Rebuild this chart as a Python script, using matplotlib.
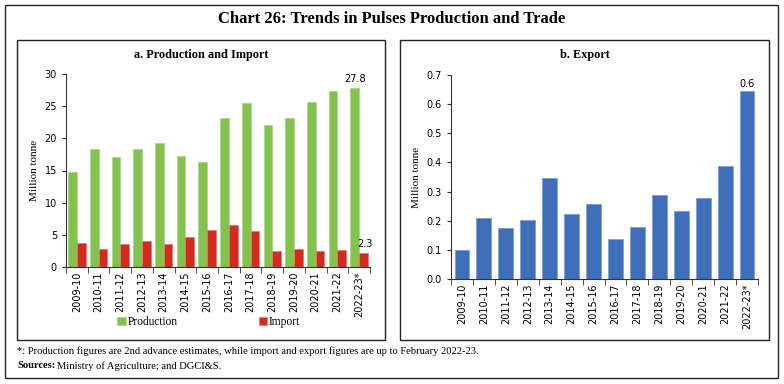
import numpy as np
import matplotlib.pyplot as plt
from matplotlib.patches import Rectangle

years = ['2009-10', '2010-11', '2011-12', '2012-13', '2013-14', '2014-15', '2015-16',
         '2016-17', '2017-18', '2018-19', '2019-20', '2020-21', '2021-22', '2022-23*']
production = [14.7, 18.3, 17.1, 18.4, 19.3, 17.2, 16.3, 23.2, 25.5, 22.1, 23.1, 25.6, 27.4, 27.8]
imports = [3.7, 2.75, 3.5, 4.0, 3.6, 4.6, 5.8, 6.6, 5.6, 2.5, 2.85, 2.45, 2.65, 2.2]
exports = [0.100, 0.209, 0.174, 0.201, 0.345, 0.222, 0.257, 0.137, 0.180, 0.288,
           0.232, 0.277, 0.389, 0.646]

green = '#84C24E'
red = '#D42B1F'
blue = '#3F6EBA'
serif = ['Liberation Serif', 'DejaVu Serif']
sans = ['DejaVu Sans']

W, H = 784, 384
fig = plt.figure(figsize=(W / 100, H / 100), dpi=100)


def box(x0, y0, x1, y1, lw=1.0):
    fig.patches.append(Rectangle((x0 / W, 1 - y1 / H), (x1 - x0) / W, (y1 - y0) / H,
                                 transform=fig.transFigure, fill=False,
                                 edgecolor='#222222', linewidth=lw))


box(5, 5, 778, 378)
box(17, 40, 385, 340)
box(400, 40, 769, 340)

fig.text(392 / W, 1 - 19 / H, 'Chart 26: Trends in Pulses Production and Trade',
         ha='center', va='center', fontsize=12, fontweight='bold', family=serif)
fig.text(201 / W, 1 - 55 / H, 'a. Production and Import', ha='center', va='center',
         fontsize=8.8, fontweight='bold', family=serif)
fig.text(585 / W, 1 - 55 / H, 'b. Export', ha='center', va='center',
         fontsize=8.8, fontweight='bold', family=serif)
fig.text(17 / W, 1 - 351 / H,
         '*: Production figures are 2nd advance estimates, while import and export figures are up to February 2022-23.',
         ha='left', va='center', fontsize=7.6, family=serif)
fig.text(17 / W, 1 - 366 / H, 'Sources:', ha='left', va='center', fontsize=7.6,
         fontweight='bold', family=serif)
fig.text(57 / W, 1 - 366 / H, 'Ministry of Agriculture; and DGCI&S.', ha='left', va='center',
         fontsize=7.6, family=serif)

x = np.arange(len(years))


def style(ax):
    for s in ['top', 'right']:
        ax.spines[s].set_visible(False)
    ax.spines['left'].set_color('#333333')
    ax.spines['bottom'].set_color('#333333')
    ax.set_xlim(-0.5, len(years) - 0.5)
    ax.set_xticks(x)
    ax.set_xticklabels(years, rotation=90, fontsize=7, family=sans)
    ax.tick_params(axis='x', length=0, pad=3)
    ax.set_xticks(np.arange(len(years) + 1) - 0.5, minor=True)
    ax.tick_params(axis='x', which='minor', length=4, direction='out', color='#333333')
    ax.tick_params(axis='y', labelsize=7, length=3, color='#333333')
    for lab in ax.get_yticklabels():
        lab.set_family(sans)
    ax.set_ylabel('Million tonne', fontsize=8, family=serif)


# panel a
ax1 = fig.add_axes([66 / W, 1 - 267 / H, (370 - 66) / W, (267 - 74) / H])
bw = 0.4
ax1.bar(x - bw / 2, production, bw, color=green, edgecolor='#A8D68A', linewidth=0.6, label='Production')
ax1.bar(x + bw / 2, imports, bw, color=red, edgecolor='#E27A70', linewidth=0.6, label='Import')
ax1.set_ylim(0, 30)
ax1.set_yticks(np.arange(0, 31, 5))
style(ax1)
ax1.text(x[-1] - bw / 2, production[-1] + 0.6, '27.8', ha='center', va='bottom', fontsize=7, family=sans)
ax1.text(x[-1] + bw / 2 + 0.05, imports[-1] + 0.6, '2.3', ha='center', va='bottom', fontsize=7, family=sans)
ax1.legend(loc='center', bbox_to_anchor=(0.47, -0.285), ncol=2, frameon=False,
           prop={'family': serif, 'size': 8.3}, handlelength=0.75,
           handleheight=0.75, handletextpad=0.15, columnspacing=7.0)

# panel b
ax2 = fig.add_axes([451 / W, 1 - 279 / H, (758 - 451) / W, (279 - 75) / H])
ax2.bar(x, exports, 0.68, color=blue, edgecolor='#7F9ED3', linewidth=0.6)
ax2.set_ylim(0, 0.7)
ax2.set_yticks(np.arange(0, 0.71, 0.1))
ax2.set_yticklabels(['%.1f' % v for v in np.arange(0, 0.71, 0.1)])
style(ax2)
ax2.text(x[-1], exports[-1] + 0.005, '0.6', ha='center', va='bottom', fontsize=7, family=sans)

fig.savefig('out.png', dpi=100)
